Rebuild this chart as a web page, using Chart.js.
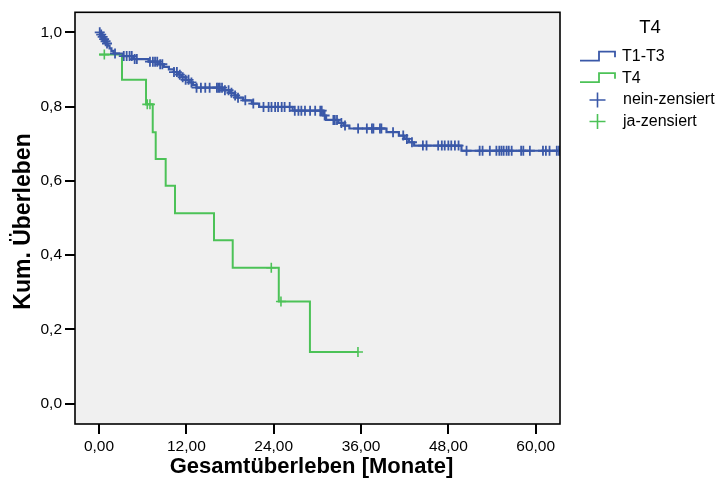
<!DOCTYPE html>
<html><head><meta charset="utf-8">
<script src="https://cdn.jsdelivr.net/npm/chart.js@4"></script>
<style>html,body{margin:0;padding:0;background:#fff}#wrap{width:720px;height:492px}</style>
</head><body><div id="wrap"><canvas id="c" width="720" height="492"></canvas></div>
<script>
const legendTitle = 'T4';
const groupNames = ['T1-T3', 'T4'];
const censorNames = ['nein-zensiert', 'ja-zensiert'];
const xTitle = 'Gesamtüberleben [Monate]';
const yTitle = 'Kum. Überleben';
const xTickValues = [0, 12, 24, 36, 48, 60];
const xTickLabels = ['0,00', '12,00', '24,00', '36,00', '48,00', '60,00'];
const yTickValues = [0, 0.2, 0.4, 0.6, 0.8, 1.0];
const yTickLabels = ['0,0', '0,2', '0,4', '0,6', '0,8', '1,0'];

// T1-T3 (blue): event times and survival after each event
const blueTimes = [0, 0.15, 0.35, 0.55, 0.75, 0.95, 1.2, 1.45, 1.7, 2.0, 3.3, 4.7, 6.8, 8.3, 8.9, 9.6, 10.3, 10.9, 11.4, 11.9, 12.4, 12.9, 13.4, 17.0, 18.0, 18.6, 19.0, 19.8, 21.0, 22.0, 26.6, 30.8, 31.2, 32.9, 33.6, 34.4, 39.5, 41.2, 42.0, 42.6, 43.3, 49.8];
const blueSurv = [1.0, 0.994, 0.988, 0.982, 0.976, 0.970, 0.964, 0.957, 0.950, 0.943, 0.936, 0.928, 0.921, 0.914, 0.907, 0.900, 0.893, 0.886, 0.879, 0.872, 0.865, 0.858, 0.851, 0.844, 0.837, 0.830, 0.824, 0.817, 0.808, 0.799, 0.789, 0.776, 0.764, 0.756, 0.749, 0.741, 0.731, 0.722, 0.713, 0.704, 0.695, 0.681];
const blueLastTime = 63.4;
const blueCensor = [0.1, 0.3, 0.5, 0.7, 0.9, 1.1, 2.2, 3.4, 3.8, 4.2, 4.5, 4.9, 5.2, 7.0, 7.4, 7.7, 8.0, 8.4, 8.7, 10.3, 10.7, 11.1, 11.5, 11.9, 12.3, 12.7, 13.4, 14.0, 14.6, 15.2, 16.2, 16.4, 16.6, 16.9, 17.3, 17.8, 18.2, 18.7, 19.1, 20.1, 21.2, 22.6, 23.3, 23.7, 24.2, 24.6, 25.1, 25.5, 26.2, 26.9, 27.4, 27.8, 28.3, 29.0, 29.7, 30.4, 30.6, 31.0, 32.2, 32.4, 32.7, 33.3, 33.8, 35.6, 36.8, 37.5, 37.7, 38.6, 38.8, 40.4, 41.8, 42.3, 43.0, 44.5, 45.0, 46.6, 47.1, 47.5, 48.0, 48.4, 48.9, 49.4, 50.5, 52.3, 52.7, 53.7, 54.6, 55.0, 55.3, 55.6, 56.0, 56.3, 56.7, 58.0, 58.3, 59.2, 61.0, 61.4, 61.9, 62.9, 63.2];

// T4 (green)
const greenTimes = [0, 3.16, 6.46, 7.38, 7.79, 9.16, 10.44, 15.8, 18.37, 24.7, 28.98];
const greenSurv = [0.94, 0.872, 0.806, 0.731, 0.659, 0.587, 0.513, 0.44, 0.366, 0.275, 0.139];
const greenLastTime = 35.58;
const greenCensor = [0.73, 6.63, 7.0, 23.67, 25.0, 35.58];

const BLUE = '#3a58a8';
const GREEN = '#4cc257';
const FONT = '"Liberation Sans", Arial, sans-serif';

function survAt(times, surv, t) {
  let v = surv[0];
  for (let i = 0; i < times.length; i++) if (times[i] <= t) v = surv[i];
  return v;
}
function stepData(times, surv, last) {
  const d = times.map((t, i) => ({x: t, y: surv[i]}));
  d.push({x: last, y: surv[surv.length - 1]});
  return d;
}
function censorData(times, surv, cens) {
  return cens.map(t => ({x: t, y: survAt(times, surv, t)}));
}

const decor = {
  id: 'decor',
  beforeDraw(chart) {
    const {ctx, chartArea: a} = chart;
    ctx.save();
    ctx.fillStyle = '#f0f0f0';
    ctx.fillRect(a.left, a.top, a.right - a.left, a.bottom - a.top);
    ctx.restore();
  },
  afterDraw(chart) {
    const {ctx, chartArea: a} = chart;
    ctx.save();
    ctx.strokeStyle = '#000';
    ctx.lineWidth = 1.6;
    ctx.strokeRect(a.left, a.top, a.right - a.left, a.bottom - a.top);

    ctx.fillStyle = '#000';
    ctx.textAlign = 'center';
    ctx.textBaseline = 'middle';
    ctx.font = 'bold 22px ' + FONT;
    ctx.fillText(xTitle, 311.5, 467);
    ctx.save();
    ctx.translate(24, 221.5);
    ctx.rotate(-Math.PI / 2);
    ctx.font = 'bold 23px ' + FONT;
    ctx.fillText(yTitle, 0, 0);
    ctx.restore();

    // legend
    ctx.font = '18.5px ' + FONT;
    ctx.fillText(legendTitle, 650, 27.5);
    ctx.textAlign = 'left';
    ctx.font = '16px ' + FONT;
    const cols = [BLUE, GREEN];
    const rowY = [57, 78.5];
    for (let i = 0; i < 2; i++) {
      const y = rowY[i];
      ctx.strokeStyle = cols[i];
      ctx.lineWidth = 1.8;
      ctx.beginPath();
      ctx.moveTo(580, y + 3.7);
      ctx.lineTo(599, y + 3.7);
      ctx.lineTo(599, y - 5.3);
      ctx.lineTo(615, y - 5.3);
      ctx.lineTo(615, y + 0.3);
      ctx.stroke();
      ctx.fillStyle = '#000';
      ctx.fillText(groupNames[i], 622, y);
    }
    const crossY = [100, 121.5];
    for (let i = 0; i < 2; i++) {
      const y = crossY[i];
      ctx.strokeStyle = cols[i];
      ctx.lineWidth = 1.6;
      ctx.beginPath();
      ctx.moveTo(589.5, y); ctx.lineTo(605.5, y);
      ctx.moveTo(597.5, y - 7.5); ctx.lineTo(597.5, y + 7.5);
      ctx.stroke();
      ctx.fillStyle = '#000';
      ctx.fillText(censorNames[i], 623, y);
    }
    ctx.restore();
  }
};

new Chart(document.getElementById('c'), {
  type: 'scatter',
  data: {
    datasets: [
      {label: groupNames[0] + ' zensiert', data: censorData(blueTimes, blueSurv, blueCensor), showLine: false,
       pointStyle: 'cross', pointRadius: 5, pointBorderWidth: 1.8, borderColor: BLUE, backgroundColor: BLUE, pointHoverRadius: 5},
      {label: groupNames[0], data: stepData(blueTimes, blueSurv, blueLastTime), showLine: true, stepped: 'before',
       borderColor: BLUE, borderWidth: 2.2, pointRadius: 0, pointHoverRadius: 0, fill: false},
      {label: groupNames[1] + ' zensiert', data: censorData(greenTimes, greenSurv, greenCensor), showLine: false,
       pointStyle: 'cross', pointRadius: 5, pointBorderWidth: 1.6, borderColor: GREEN, backgroundColor: GREEN, pointHoverRadius: 5},
      {label: groupNames[1], data: stepData(greenTimes, greenSurv, greenLastTime), showLine: true, stepped: 'before',
       borderColor: GREEN, borderWidth: 2, pointRadius: 0, pointHoverRadius: 0, fill: false}
    ]
  },
  options: {
    responsive: false,
    animation: false,
    devicePixelRatio: 1,
    layout: {padding: {left: 0, top: 6, right: 160, bottom: 0}},
    plugins: {legend: {display: false}, tooltip: {enabled: false}},
    scales: {
      x: {
        type: 'linear', min: -3.3, max: 63.34,
        afterBuildTicks: s => { s.ticks = xTickValues.map(v => ({value: v})); },
        afterFit: s => { s.height = 68; },
        grid: {drawOnChartArea: false, drawTicks: true, tickLength: 10, color: '#000', lineWidth: 2},
        border: {display: false},
        ticks: {autoSkip: false, maxRotation: 0, padding: 3, color: '#000', font: {family: FONT, size: 15.5},
          callback: v => { const i = xTickValues.indexOf(v); return i >= 0 ? xTickLabels[i] : ''; }},
        title: {display: false}
      },
      y: {
        type: 'linear', min: -0.055, max: 1.054,
        afterBuildTicks: s => { s.ticks = yTickValues.map(v => ({value: v})); },
        afterFit: s => { s.width = 75; },
        grid: {drawOnChartArea: false, drawTicks: true, tickLength: 10, color: '#000', lineWidth: 2},
        border: {display: false},
        ticks: {autoSkip: false, padding: 3, color: '#000', font: {family: FONT, size: 15.5},
          callback: v => { const i = yTickValues.indexOf(v); return i >= 0 ? yTickLabels[i] : ''; }},
        title: {display: false}
      }
    }
  },
  plugins: [decor]
});
</script></body></html>
